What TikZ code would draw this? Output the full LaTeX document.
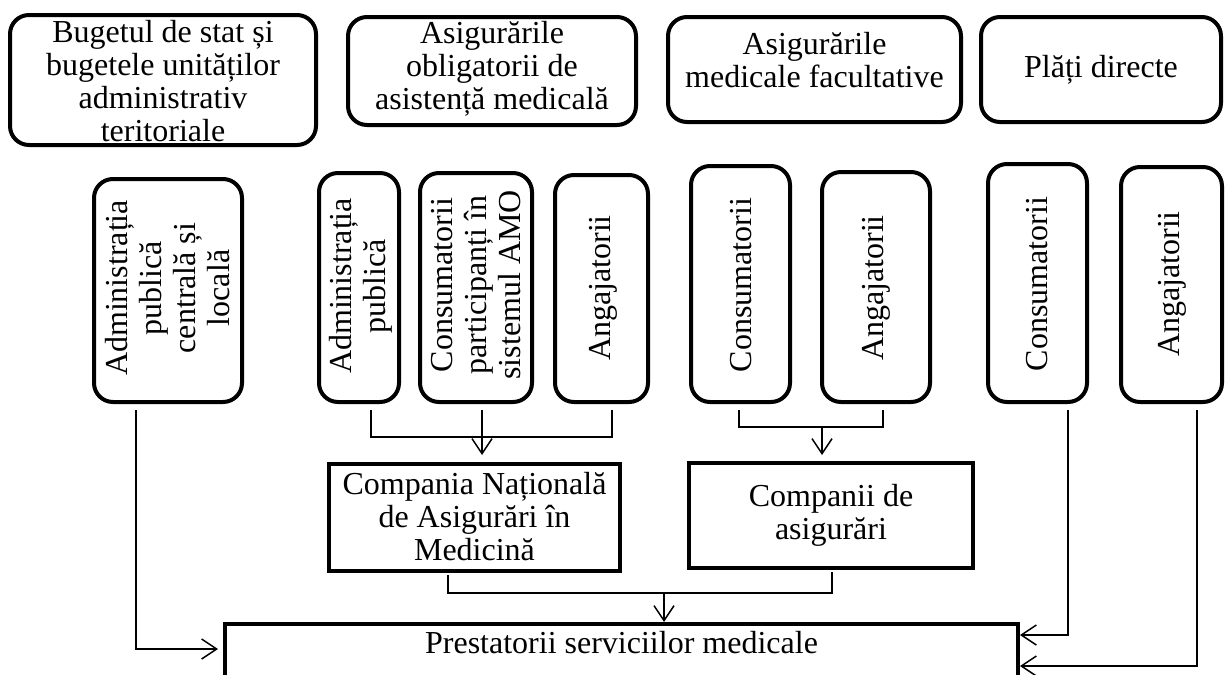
\documentclass[tikz,border=0pt]{standalone}
\usepackage{fontspec}
\setmainfont{Liberation Serif}
\usetikzlibrary{arrows.meta}
\begin{document}
\begin{tikzpicture}[x=1pt,y=-1pt,
  rbox/.style={draw, line width=4pt, rounded corners=19pt, inner sep=0pt},
  sbox/.style={draw, line width=4pt, inner sep=0pt},
  txt/.style={align=center, inner sep=0pt, font=\fontsize{32}{33}\selectfont},
  vtxt/.style={align=center, inner sep=0pt, rotate=90, font=\fontsize{32}{34}\selectfont},
  conn/.style={line width=1.5pt},
  arr/.style={conn, -{Straight Barb[length=15pt,width=20pt,line width=1.5pt]}}]
\useasboundingbox (0,0) rectangle (1227,675);
\clip (0,0) rectangle (1227,675);

% top row
\node[rbox, minimum width=306pt, minimum height=130pt] (b1) at (163,80) {};
\node[txt] (b1t) at (163,81) {Bugetul de stat și\\bugetele unităților\\administrativ\\teritoriale};
\node[rbox, minimum width=288pt, minimum height=108pt] (b2) at (492,71) {};
\node[txt] (b2t) at (492,69) {Asigurările\\obligatorii de\\asistență medicală};
\node[rbox, minimum width=293pt, minimum height=105pt] (b3) at (814.5,69.5) {};
\node[txt] (b3t) at (814.5,60) {Asigurările\\medicale facultative};
\node[rbox, minimum width=240pt, minimum height=105pt] (b4) at (1101,69.5) {};
\node[txt] (b4t) at (1101,70) {Plăți directe};

% second row
\node[rbox, minimum width=148pt, minimum height=223pt] (v1) at (168,290.5) {};
\node[vtxt] (v1t) at (168,288) {Administrația\\publică\\centrală și\\locală};
\node[rbox, minimum width=80pt, minimum height=229pt] (v2) at (359,287.5) {};
\node[vtxt] (v2t) at (361,286) {Administrația\\publică};
\node[rbox, minimum width=112pt, minimum height=229pt] (v3) at (476,287.5) {};
\node[vtxt] (v3t) at (476,285) {Consumatorii\\participanți în\\sistemul AMO};
\node[rbox, minimum width=93pt, minimum height=227pt] (v4) at (601.5,288.5) {};
\node[vtxt] (v4t) at (603,288) {Angajatorii};
\node[rbox, minimum width=99pt, minimum height=236pt] (v5) at (740.5,284) {};
\node[vtxt] (v5t) at (741,285) {Consumatorii};
\node[rbox, minimum width=108pt, minimum height=230pt] (v6) at (876,287) {};
\node[vtxt] (v6t) at (876,288) {Angajatorii};
\node[rbox, minimum width=99pt, minimum height=238pt] (v7) at (1037.5,283) {};
\node[vtxt] (v7t) at (1037,284) {Consumatorii};
\node[rbox, minimum width=101pt, minimum height=235pt] (v8) at (1171.5,284.5) {};
\node[vtxt] (v8t) at (1172,284) {Angajatorii};

% companies
\node[sbox, minimum width=291pt, minimum height=107pt] (cnam) at (474.5,517.5) {};
\node[txt] (cnamt) at (474.5,517) {Compania Națională\\de Asigurări în\\Medicină};
\node[sbox, minimum width=284pt, minimum height=105pt] (comp) at (831,515.5) {};
\node[txt] (compt) at (831,515) {Companii de\\asigurări};

% providers
\node[sbox, minimum width=793pt, minimum height=54pt] (prest) at (621.5,651) {};
\node[txt] (prestt) at (621.5,643) {Prestatorii serviciilor medicale};

% junctions
\coordinate (j1) at (371,437);
\coordinate (j2) at (482,437);
\coordinate (j3) at (612,437);
\coordinate (k1) at (739,427);
\coordinate (k2) at (822,427);
\coordinate (k3) at (883,427);
\coordinate (m1) at (448,593);
\coordinate (m2) at (664,593);
\coordinate (m3) at (832,593);

% connectors
\draw[arr, shorten <=6pt, shorten >=5pt] (v1.south -| 136,0) |- (prest.west |- 0,649);
\draw[conn, shorten <=6pt, shorten >=6pt] (v2.south -| j1) -- (j1) -- (j3) -- (v4.south -| j3);
\draw[arr, shorten <=6pt, shorten >=7pt] (v3.south -| j2) -- (cnam.north -| j2);
\draw[conn, shorten <=6pt, shorten >=6pt] (v5.south -| k1) -- (k1) -- (k3) -- (v6.south -| k3);
\draw[arr, shorten >=6pt] (k2) -- (comp.north -| k2);
\draw[conn, shorten <=2pt, shorten >=2pt] (cnam.south -| m1) -- (m1) -- (m3) -- (comp.south -| m3);
\draw[arr] (m2) -- (prest.north -| m2);
\draw[arr, shorten <=6pt] (v7.south -| 1068,0) |- (prest.east |- 0,635);
\draw[arr, shorten <=6pt] (v8.south -| 1197,0) |- (prest.east |- 0,666);
\end{tikzpicture}
\end{document}
